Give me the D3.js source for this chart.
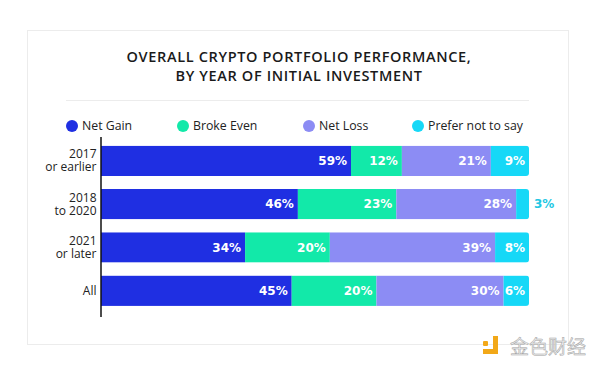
<!DOCTYPE html>
<html><head><meta charset="utf-8">
<script src="https://cdn.jsdelivr.net/npm/d3@7"></script>
<style>html,body{margin:0;padding:0;background:#fff;}svg{display:block;}</style>
</head><body>
<script>
// ---- data ----
const categories = ["2017\nor earlier", "2018\nto 2020", "2021\nor later", "All"];
const seriesNames = ["Net Gain", "Broke Even", "Net Loss", "Prefer not to say"];
const netGain    = [59, 46, 34, 45];
const brokeEven  = [12, 23, 20, 20];
const netLoss    = [21, 28, 39, 30];
const preferNot  = [9, 3, 8, 6];
const titleLines = ["OVERALL CRYPTO PORTFOLIO PERFORMANCE,", "BY YEAR OF INITIAL INVESTMENT"];
const colors = ["#1f2fe2", "#12e9a9", "#8c8cf4", "#16d8f7"];

const rows = categories.map((c, i) => ({
  cat: c, "Net Gain": netGain[i], "Broke Even": brokeEven[i],
  "Net Loss": netLoss[i], "Prefer not to say": preferNot[i]
}));

const W = 600, H = 369;
const svg = d3.select("body").append("svg").attr("width", W).attr("height", H);

// card
svg.append("rect").attr("x", 27.5).attr("y", 30.5).attr("width", 541).attr("height", 314)
  .attr("fill", "#fff").attr("stroke", "#ececec").attr("stroke-width", 1);

// title
svg.append("g").selectAll("text").data(titleLines).join("text")
  .attr("x", 299).attr("y", (d, i) => 62 + i * 18.5)
  .attr("text-anchor", "middle")
  .attr("font-family", "'Open Sans', sans-serif").attr("font-weight", 600)
  .attr("font-size", 14.5).attr("letter-spacing", 0.65).attr("fill", "#1a1a1a")
  .text(d => d);

// separator
svg.append("line").attr("x1", 66).attr("x2", 529).attr("y1", 100.5).attr("y2", 100.5)
  .attr("stroke", "#ececec").attr("stroke-width", 1);

// legend
const legendX = [72, 183, 309, 418];
const color = d3.scaleOrdinal().domain(seriesNames).range(colors);
const lg = svg.append("g").selectAll("g").data(seriesNames).join("g")
  .attr("transform", (d, i) => `translate(${legendX[i]},126)`);
lg.append("circle").attr("r", 6).attr("fill", d => color(d));
lg.append("text").attr("x", 10).attr("dy", "0.36em")
  .attr("font-family", "'Open Sans', sans-serif").attr("font-size", 12.3)
  .attr("fill", "#222").text(d => d);

// scales
const x = d3.scaleLinear().domain([0, 1]).range([101, 529]);
const y = d3.scaleBand().domain(categories).range([139.2, 312.4])
  .paddingInner(0.3).paddingOuter(0.15);

const stack = d3.stack().keys(seriesNames).offset(d3.stackOffsetExpand);
const stacked = stack(rows);

// clip paths for rounded right ends
const defs = svg.append("defs");
categories.forEach((c, i) => {
  defs.append("clipPath").attr("id", "clip" + i).append("rect")
    .attr("x", x(0) - 6).attr("y", y(c)).attr("width", x(1) - x(0) + 6)
    .attr("height", y.bandwidth()).attr("rx", 3);
});

const barG = svg.append("g");
categories.forEach((c, i) => {
  const g = barG.append("g").attr("clip-path", `url(#clip${i})`);
  stacked.forEach(s => {
    const d = s[i];
    g.append("rect").attr("x", x(d[0])).attr("y", y(c))
      .attr("width", x(d[1]) - x(d[0])).attr("height", y.bandwidth())
      .attr("fill", color(s.key));
  });
});

// labels
const labG = svg.append("g").attr("font-family", "'DejaVu Sans', sans-serif")
  .attr("font-weight", "bold").attr("font-size", 12);
categories.forEach((c, i) => {
  stacked.forEach(s => {
    const d = s[i];
    const v = d.data[s.key];
    const w = x(d[1]) - x(d[0]);
    const inside = w > 20;
    labG.append("text")
      .attr("x", inside ? x(d[1]) - 4 : x(d[1]) + 5)
      .attr("y", y(c) + y.bandwidth() / 2).attr("dy", "0.36em")
      .attr("text-anchor", inside ? "end" : "start")
      .attr("fill", inside ? "#fff" : "#22c7e3")
      .text(v + "%");
  });
});

// axis
const axis = svg.append("g").attr("transform", `translate(${x(0)},0)`)
  .call(d3.axisLeft(y).tickSize(0).tickPadding(5).tickFormat(""));
axis.select(".domain").remove();
svg.append("line").attr("x1", x(0)).attr("x2", x(0)).attr("y1", 137).attr("y2", 317)
  .attr("stroke", "#111").attr("stroke-width", 1.5);
axis.selectAll(".tick text").each(function(d) {
  const lines = d.split("\n");
  const t = d3.select(this).attr("font-family", "'Open Sans', sans-serif")
    .attr("font-size", 12).attr("fill", "#222").attr("dy", null)
    .attr("text-anchor", "end");
  lines.forEach((ln, k) => {
    t.append("tspan").attr("x", -4.5)
      .attr("dy", k === 0 ? (lines.length === 1 ? "0.36em" : "-0.2em") : "1.08em")
      .text(ln);
  });
});

// watermark
const wm = svg.append("g");
wm.append("rect").attr("x", 483).attr("y", 341).attr("width", 5).attr("height", 5).attr("rx", 1).attr("fill", "#f2a818");
wm.append("path").attr("d", "M490,336 h8 v18 h-15 v-5 h10 v-13 z").attr("fill", "#f2a818");
wm.append("text").attr("x", 510).attr("y", 354)
  .attr("font-family", "'Noto Sans CJK SC', sans-serif").attr("font-size", 19)
  .attr("fill", "#ebebeb").attr("stroke", "#a5a5a5").attr("stroke-width", 0.5)
  .text("金色财经");
</script>
</body></html>
